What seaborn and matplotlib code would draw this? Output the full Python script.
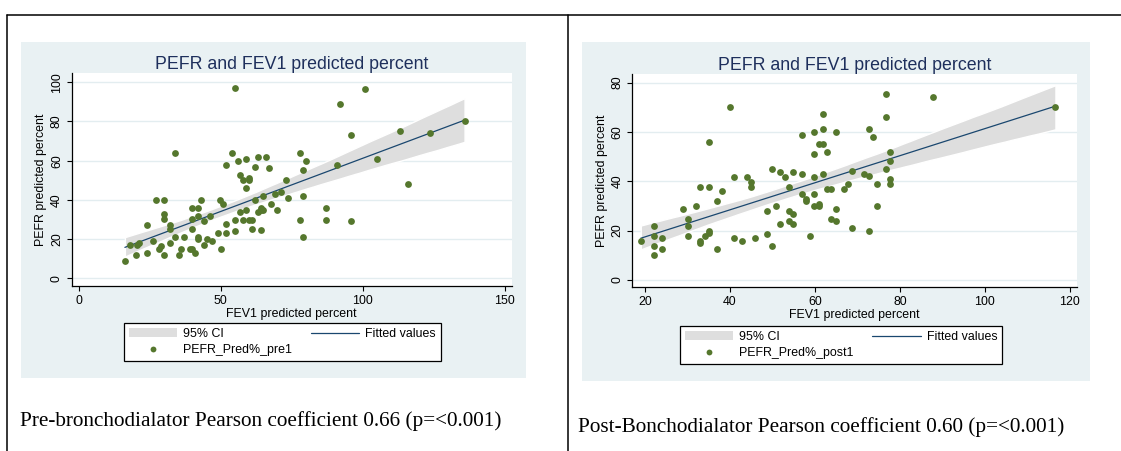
import numpy as np
import pandas as pd
import matplotlib
matplotlib.use("Agg")
import matplotlib.pyplot as plt
from matplotlib.patches import Rectangle, Patch
from matplotlib.lines import Line2D
import seaborn as sns

# ---------------- data ----------------
pre_fev1 = [16.2, 18.1, 20.1, 20.3, 21.1, 24.1, 24.1, 26.1, 27.1, 28.1, 29.0, 30.0, 30.0, 30.0, 30.0,
            32.0, 32.0, 32.0, 33.9, 33.9, 35.1, 36.0, 37.0, 39.0, 39.9, 39.9, 39.9, 39.9, 41.0, 42.0,
            42.0, 42.0, 42.0, 43.0, 43.9, 43.9, 45.0, 46.0, 46.9, 48.9, 49.8, 50.0, 50.8, 51.9, 51.9,
            51.9, 53.9, 54.9, 54.9, 55.0, 55.9, 56.9, 56.9, 57.9, 57.9, 58.9, 58.9, 58.9, 60.0, 60.0,
            60.0, 61.0, 61.0, 61.9, 61.9, 62.9, 62.9, 64.0, 64.0, 64.0, 64.9, 64.9, 65.8, 66.8, 67.8,
            68.9, 69.8, 71.0, 72.9, 73.8, 77.9, 77.9, 79.0, 79.0, 79.0, 79.9, 87.0, 87.0, 90.8, 91.9,
            95.9, 95.9, 100.9, 104.9, 112.9, 115.8, 123.8, 135.8]
pre_pefr = [9.0, 17.0, 11.9, 17.0, 17.9, 27.0, 13.1, 18.9, 40.0, 15.0, 16.7, 40.0, 33.0, 30.1, 11.9,
            27.0, 25.0, 18.0, 63.9, 20.9, 11.9, 15.0, 20.9, 15.0, 15.0, 36.0, 30.1, 25.0, 12.9, 36.0,
            32.0, 20.9, 19.9, 40.0, 16.8, 29.1, 19.9, 32.0, 18.9, 23.1, 40.0, 15.0, 37.9, 58.0, 27.9,
            23.1, 63.9, 24.0, 29.9, 97.1, 60.0, 52.9, 33.8, 50.2, 29.9, 61.1, 46.1, 35.0, 51.2, 50.2,
            29.9, 29.9, 25.0, 57.0, 40.0, 62.1, 33.8, 34.9, 24.8, 35.9, 41.8, 35.0, 62.1, 56.1, 37.9,
            43.0, 35.0, 44.0, 50.2, 41.0, 64.1, 29.9, 55.1, 42.0, 20.9, 60.0, 36.1, 29.9, 58.0, 89.1,
            73.1, 29.1, 96.3, 61.1, 75.2, 48.1, 74.1, 80.1]

post_fev1 = [19.0, 22.0, 22.0, 22.0, 22.0, 24.0, 24.0, 28.9, 30.0, 30.0, 30.0, 31.9, 32.9, 32.9, 32.9,
             34.0, 35.0, 35.0, 35.0, 35.0, 36.9, 36.9, 38.0, 39.9, 40.9, 40.9, 42.9, 43.9, 44.9, 44.9,
             45.9, 48.8, 48.8, 49.8, 49.8, 50.8, 51.8, 51.8, 52.9, 53.8, 53.8, 53.8, 54.8, 54.8, 54.8,
             56.9, 56.9, 56.9, 57.8, 57.8, 58.8, 59.8, 59.8, 59.8, 59.8, 59.8, 60.9, 60.9, 60.9, 61.8,
             61.8, 61.8, 61.8, 62.8, 62.8, 63.8, 63.8, 64.9, 64.9, 64.9, 66.8, 67.8, 68.8, 68.8, 71.6,
             72.7, 72.7, 72.7, 73.7, 74.7, 74.7, 76.7, 76.7, 76.7, 77.7, 77.7, 77.7, 77.7, 87.8, 116.6]
post_pefr = [15.9, 21.8, 17.8, 13.8, 9.9, 16.8, 12.7, 28.8, 24.9, 21.8, 17.8, 30.0, 37.8, 15.8, 15.1,
             17.8, 56.1, 37.8, 19.9, 18.9, 31.9, 12.7, 35.9, 70.1, 41.9, 16.8, 15.8, 41.9, 39.9, 37.8,
             16.8, 27.8, 18.8, 45.0, 13.8, 29.9, 22.8, 43.9, 41.9, 37.8, 27.8, 23.8, 43.9, 26.9, 22.8,
             58.9, 42.8, 34.9, 33.0, 31.9, 17.8, 60.0, 50.9, 41.9, 34.9, 29.9, 55.1, 30.9, 29.9, 67.2,
             61.1, 55.1, 42.8, 51.9, 36.9, 36.9, 24.9, 60.0, 28.8, 23.8, 36.9, 38.9, 44.1, 20.9, 43.0,
             42.0, 61.2, 19.9, 58.1, 39.1, 30.0, 75.3, 66.2, 45.1, 52.0, 48.1, 41.1, 39.1, 74.2, 70.1]

title_text = "PEFR and FEV1 predicted percent"
xlabel_text = "FEV1 predicted percent"
ylabel_text = "PEFR predicted percent"
legend_ci = "95% CI"
legend_fit = "Fitted values"
legend_pts = ["PEFR_Pred%_pre1", "PEFR_Pred%_post1"]
captions = ["Pre-bronchodialator Pearson coefficient 0.66 (p=<0.001)",
            "Post-Bonchodialator Pearson coefficient 0.60 (p=<0.001)"]
pre_xticks = [0, 50, 100, 150]
pre_yticks = [0, 20, 40, 60, 80, 100]
post_xticks = [20, 40, 60, 80, 100, 120]
post_yticks = [0, 20, 40, 60, 80]

# ---------------- style ----------------
sns.set_style("white")
plt.rcParams['font.family'] = ['Liberation Sans', 'DejaVu Sans']
plt.rcParams['text.color'] = 'black'
plt.rcParams['axes.labelcolor'] = 'black'
plt.rcParams['xtick.color'] = 'black'
plt.rcParams['ytick.color'] = 'black'

PANEL = "#e9f1f3"
GRID = "#e3edf0"
GREEN = "#55772d"
NAVY = "#1a476f"
CIGRAY = "#dedede"
TITLE = "#1e2f5c"

W, H = 1121, 451
fig = plt.figure(figsize=(W / 100, H / 100), dpi=100)
fig.patch.set_facecolor("white")


def fx(px):
    return px / W


def fy(py):
    return 1 - py / H


def add_panel(x0, y0, x1, y1):
    r = Rectangle((fx(x0), fy(y1)), fx(x1 - x0), (y1 - y0) / H, transform=fig.transFigure,
                  facecolor=PANEL, edgecolor="none", zorder=-5)
    fig.add_artist(r)


# table frame lines
for (xa, ya, xb, yb) in [(6.5, 15, 1121, 15), (6.5, 15, 6.5, 451), (567.7, 15, 567.7, 451)]:
    fig.add_artist(Line2D([fx(xa), fx(xb)], [fy(ya), fy(yb)], transform=fig.transFigure,
                          color="black", lw=1.1, zorder=-4))

add_panel(21, 42, 525.7, 377.5)
add_panel(582, 42, 1090, 380.7)


def make_plot(box, xlim, ylim, xs, ys, xticks, yticks, leg_label, leg_pos):
    l, r, t, b = box
    ax = fig.add_axes([fx(l), fy(b), fx(r - l), (b - t) / H])
    ax.set_facecolor("white")
    df = pd.DataFrame({"fev1": xs, "pefr": ys})
    sns.regplot(data=df, x="fev1", y="pefr", ax=ax, scatter=False, ci=95, n_boot=2000, seed=3,
                line_kws=dict(color=NAVY, lw=0.9, zorder=2))
    for coll in ax.collections:
        coll.set_facecolor(CIGRAY)
        coll.set_alpha(1)
        coll.set_zorder(1)
    sns.scatterplot(data=df, x="fev1", y="pefr", ax=ax, color=GREEN, s=24, linewidth=0, zorder=3)
    ax.set_xlim(*xlim)
    ax.set_ylim(*ylim)
    ax.set_xticks(xticks)
    ax.set_yticks(yticks)
    ax.set_axisbelow(True)
    ax.yaxis.grid(True, color=GRID, lw=1.0)
    ax.xaxis.grid(False)
    for s in ["top", "right"]:
        ax.spines[s].set_visible(False)
    for s in ["left", "bottom"]:
        ax.spines[s].set_color("black")
        ax.spines[s].set_linewidth(0.9)
    ax.tick_params(axis="both", direction="out", length=3.6, width=0.8, color="black",
                   labelcolor="black", labelsize=8.9, pad=2.6, left=True, bottom=True)
    ax.tick_params(axis="y", labelrotation=90)
    for lab in ax.get_yticklabels():
        lab.set_va("center")
    ax.set_xlabel(xlabel_text, fontsize=8.9, labelpad=1, color="black")
    ax.set_ylabel(ylabel_text, fontsize=8.9, labelpad=3, color="black")
    ax.set_title(title_text, fontsize=12.8, color=TITLE, pad=3.2)
    handles = [Patch(facecolor=CIGRAY, edgecolor="none"),
               Line2D([], [], ls="none", marker="o", ms=4.2, mfc=GREEN, mec="none"),
               Line2D([], [], color=NAVY, lw=0.9)]
    labels = [legend_ci, leg_label, legend_fit]
    leg = fig.legend(handles, labels, loc="upper left", bbox_to_anchor=(fx(leg_pos[0]), fy(leg_pos[1])),
                     bbox_transform=fig.transFigure, ncol=2, fontsize=8.9, frameon=True,
                     fancybox=False, handlelength=3.9, handletextpad=0.5, columnspacing=1.5,
                     labelspacing=0.35, borderpad=0.4, borderaxespad=0, labelcolor="black")
    fr = leg.get_frame()
    fr.set_edgecolor("black")
    fr.set_linewidth(0.9)
    fr.set_facecolor("white")
    fr.set_alpha(1)
    return ax


make_plot((71.5, 512, 73, 286), (-2.6, 152.5), (-3.9, 104.7), pre_fev1, pre_pefr,
          pre_xticks, pre_yticks, legend_pts[0], (124, 323))
make_plot((632.3, 1076.7, 74.3, 287.3), (17.0, 121.6), (-3.0, 83.4), post_fev1, post_pefr,
          post_xticks, post_yticks, legend_pts[1], (680, 326))

fig.text(fx(20), fy(426), captions[0], family=["Liberation Serif", "DejaVu Serif"], fontsize=15.3,
         va="baseline", ha="left", color="black")
fig.text(fx(578), fy(432), captions[1], family=["Liberation Serif", "DejaVu Serif"], fontsize=15.3,
         va="baseline", ha="left", color="black")

fig.savefig("out.png", dpi=100)
